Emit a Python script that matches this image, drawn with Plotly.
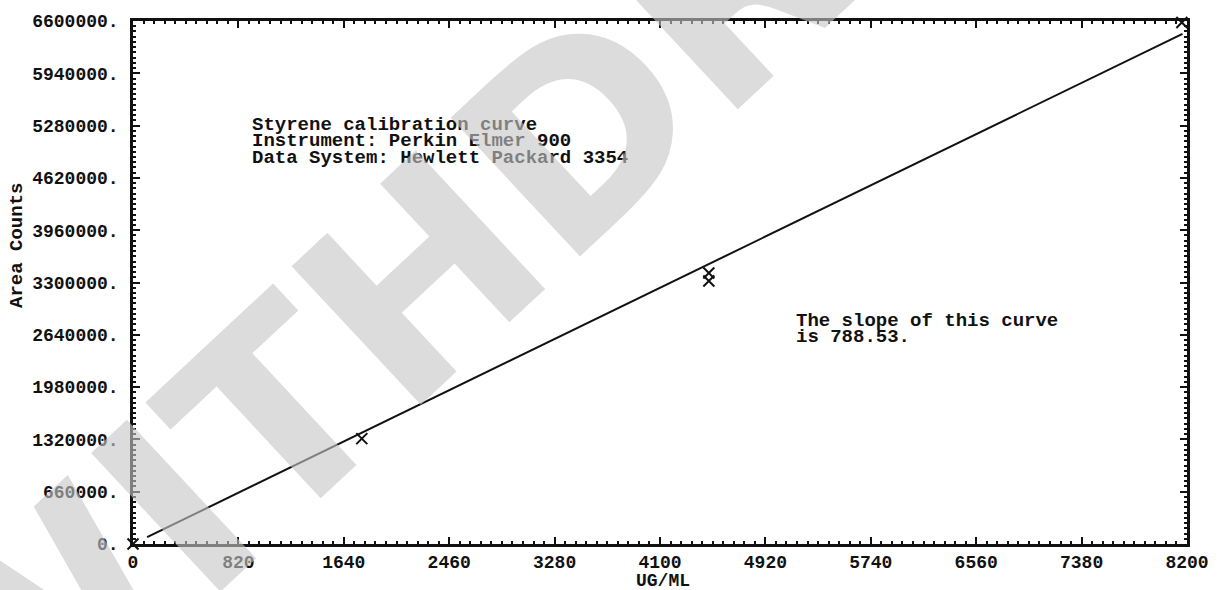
import plotly.graph_objects as go

# Calibration standards: concentration (ug/mL) vs. integrated area counts
conc_ug_ml = [0, 1780, 4480, 4480, 8160]
area_counts = [0, 1330000, 3420000, 3320000, 6580000]

# Least-squares slope reported by the data system
SLOPE = 788.53
fit_x = [110, 8165]
fit_y = [SLOPE * v for v in fit_x]

# Axis ticks
x_ticks = [0, 820, 1640, 2460, 3280, 4100, 4920, 5740, 6560, 7380, 8200]
x_tick_text = ["0", "820", "1640", "2460", "3280", "4100", "4920", "5740", "6560", "7380", "8200"]
y_ticks = [0, 660000, 1320000, 1980000, 2640000, 3300000, 3960000, 4620000, 5280000, 5940000, 6600000]
y_tick_text = ["0.", "660000.", "1320000.", "1980000.", "2640000.", "3300000.", "3960000.",
               "4620000.", "5280000.", "5940000.", "6600000."]

FONT = "Liberation Mono"
INK = "#111111"

fig = go.Figure()

fig.add_trace(go.Scatter(
    x=fit_x, y=fit_y, mode="lines",
    line=dict(color=INK, width=2),
    hoverinfo="skip", showlegend=False,
))

fig.add_trace(go.Scatter(
    x=conc_ug_ml, y=area_counts, mode="markers",
    marker=dict(symbol="x-thin", size=11, line=dict(color=INK, width=2)),
    cliponaxis=False, showlegend=False,
))

axis_common = dict(
    showline=True, linecolor=INK, linewidth=2.5, mirror="ticks",
    ticks="inside", tickcolor=INK, tickwidth=2, ticklen=7,
    showgrid=False, zeroline=False,
    tickfont=dict(family=FONT, size=18, color=INK, weight="bold"),
)

fig.update_xaxes(
    range=[0, 8200], tickmode="array", tickvals=x_ticks, ticktext=x_tick_text,
    minor=dict(ticks="inside", ticklen=3, tickwidth=1.5, tickcolor=INK, dtick=82, tick0=0),
    ticklabelstandoff=0,
    **axis_common,
)
fig.update_yaxes(
    range=[0, 6600000], tickmode="array", tickvals=y_ticks, ticktext=y_tick_text,
    minor=dict(ticks="inside", ticklen=3, tickwidth=1.5, tickcolor=INK, dtick=66000, tick0=0),
    ticklabelstandoff=8,
    **axis_common,
)

text_font = dict(family=FONT, size=19, color=INK, weight="bold")
notes = [
    ("Styrene calibration curve", 0.111, 0.802),
    ("Instrument: Perkin Elmer 900", 0.111, 0.770),
    ("Data System: Hewlett Packard 3354", 0.111, 0.738),
    ("The slope of this curve", 0.627, 0.427),
    ("is 788.53.", 0.627, 0.395),
]
annotations = [
    dict(text=t, x=x, y=y, xref="paper", yref="paper", xanchor="left", yanchor="middle",
         showarrow=False, font=text_font)
    for t, x, y in notes
]

# Axis titles
annotations.append(dict(text="UG/ML", x=0.503, y=-0.070, xref="paper", yref="paper",
                        xanchor="center", yanchor="middle", showarrow=False,
                        font=dict(family=FONT, size=18, color=INK, weight="bold")))
annotations.append(dict(text="Area Counts", x=-0.110, y=0.57, xref="paper", yref="paper",
                        xanchor="center", yanchor="middle", textangle=-90,
                        showarrow=False, font=text_font))

# Diagonal stamp across the page
annotations.append(dict(
    text="WITHDRAWN", x=0.464, y=0.861, xref="paper", yref="paper",
    xanchor="center", yanchor="middle", textangle=-43, showarrow=False,
    font=dict(family="DejaVu Sans", size=260, color="rgba(197,197,197,0.61)", weight="bold"),
))

fig.update_layout(
    width=1225, height=590,
    margin=dict(l=133, r=38, t=19, b=46),
    paper_bgcolor="white", plot_bgcolor="white",
    annotations=annotations,
)

fig.write_html("out.html")
